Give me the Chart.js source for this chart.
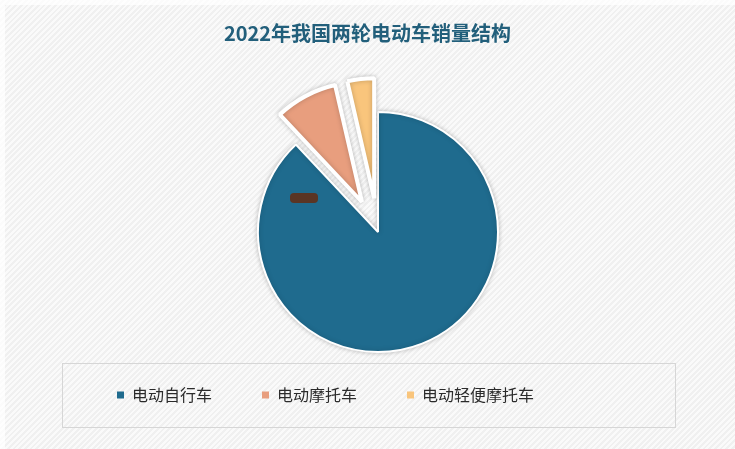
<!DOCTYPE html>
<html>
<head>
<meta charset="utf-8">
<script src="https://cdn.jsdelivr.net/npm/chart.js@4"></script>
<style>
  html, body { margin: 0; padding: 0; }
  body {
    width: 735px; height: 449px; overflow: hidden;
    background: #f5f5f5 repeating-linear-gradient(135deg, #fafafa 0 2px, #f0f0f0 2px 4px);
  }
  #wrap { position: absolute; left: 0; top: 0; width: 735px; height: 449px;
    box-shadow: inset 5px 5px 0 rgba(255,255,255,0.7); }
</style>
</head>
<body>
<div id="wrap"><canvas id="chart" width="735" height="449"></canvas></div>
<script>
const titleText = '2022年我国两轮电动车销量结构';
const categories = ['电动自行车', '电动摩托车', '电动轻便摩托车'];
const shares = [88.0, 8.4, 3.6];
const colors = ['#1f6b8e', '#e89e7e', '#f9c57c'];
const explode = [0, 34, 34]; // px each slice is pulled out along its middle

// pull the small slices out after the controller has laid them out
const pullOut = {
  id: 'pullOut',
  afterDatasetsUpdate(chart) {
    chart.getDatasetMeta(0).data.forEach((arc, i) => {
      const mid = (arc.startAngle + arc.endAngle) / 2;
      arc.x += Math.cos(mid) * explode[i];
      arc.y += Math.sin(mid) * explode[i];
    });
  },
  beforeDatasetsDraw(chart) {
    const ctx = chart.ctx;
    ctx.save();
    ctx.shadowColor = 'rgba(0,0,0,0.22)';
    ctx.shadowBlur = 5;
  },
  afterDatasetsDraw(chart) {
    chart.ctx.restore();
  }
};

// title, legend frame and the stray label blob
const decor = {
  id: 'decor',
  afterDraw(chart) {
    const ctx = chart.ctx;
    ctx.save();
    ctx.strokeStyle = '#d6d6d6';
    ctx.lineWidth = 1;
    ctx.strokeRect(62.5, 363.5, 613, 64);
    ctx.font = 'bold 20px "Noto Sans CJK SC", sans-serif';
    ctx.fillStyle = '#225f7b';
    ctx.textAlign = 'center';
    ctx.textBaseline = 'middle';
    ctx.fillText(titleText, 367.5, 33);
    const arc = chart.getDatasetMeta(0).data[0];
    ctx.fillStyle = '#5a3524';
    ctx.beginPath();
    ctx.roundRect(arc.x - 88, arc.y - 39, 28, 10, 4);
    ctx.fill();
    ctx.restore();
  }
};

new Chart(document.getElementById('chart'), {
  type: 'pie',
  data: {
    labels: categories,
    datasets: [{
      data: shares,
      backgroundColor: colors,
      borderColor: '#ffffff',
      borderWidth: [2, 4, 4],
      radius: 120,
      clip: false
    }]
  },
  options: {
    responsive: false,
    animation: false,
    layout: { padding: { top: 127, bottom: 36, left: 67, right: 46 } },
    plugins: {
      title: { display: false },
      tooltip: { enabled: false },
      legend: {
        position: 'bottom',
        align: 'start',
        labels: {
          boxWidth: 7,
          boxHeight: 7,
          padding: 50,
          color: '#2b2b2b',
          font: { family: '"Noto Sans CJK SC", sans-serif', size: 16 },
          generateLabels(chart) {
            return Chart.overrides.pie.plugins.legend.labels.generateLabels(chart)
              .map(item => Object.assign(item, { lineWidth: 0 }));
          }
        }
      }
    }
  },
  plugins: [pullOut, decor]
});
</script>
</body>
</html>
